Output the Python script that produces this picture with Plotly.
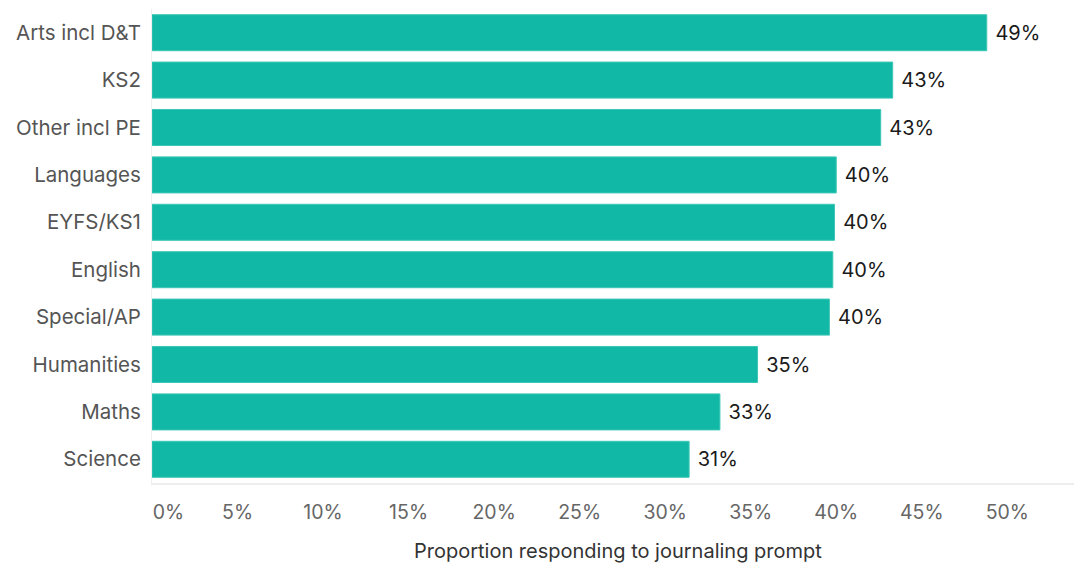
import plotly.graph_objects as go

categories = ["Arts incl D&T", "KS2", "Other incl PE", "Languages", "EYFS/KS1",
              "English", "Special/AP", "Humanities", "Maths", "Science"]
values = [0.488, 0.433, 0.426, 0.400, 0.399, 0.398, 0.396, 0.354, 0.332, 0.314]
tick_vals = [0, 0.05, 0.10, 0.15, 0.20, 0.25, 0.30, 0.35, 0.40, 0.45, 0.50]
tick_text = ["\u00a0\u00a0\u00a0\u00a0\u00a0\u00a00%", "5%", "10%", "15%", "20%", "25%",
             "30%", "35%", "40%", "45%", "50%"]
x_title = "Proportion responding to journaling prompt"

FONT = "Inter"

fig = go.Figure(go.Bar(
    y=categories, x=values, orientation="h",
    marker=dict(color="#12b8a6", line=dict(color="#3cc6b6", width=1)),
    text=[f"\u00a0{round(v*100)}%" for v in values],
    textposition="outside", cliponaxis=False,
    textfont=dict(family=FONT, size=20, color="#1a1a1a"),
    width=0.76,
))

fig.update_layout(
    width=1074, height=563,
    margin=dict(l=152, r=0, t=9, b=80),
    paper_bgcolor="white", plot_bgcolor="white",
    showlegend=False,
    font=dict(family=FONT),
    annotations=[dict(text=x_title, xref="paper", yref="paper", x=0.505, y=-0.143,
                      xanchor="center", yanchor="middle", showarrow=False,
                      font=dict(family=FONT, size=20, color="#333333"))],
)
fig.update_yaxes(
    autorange="reversed", showgrid=False, automargin=False,
    showline=True, linecolor="#eeeeee", linewidth=1,
    ticks="", ticklabelstandoff=6,
    tickfont=dict(family=FONT, size=20.5, color="#555555"),
)
fig.update_xaxes(
    range=[0, 0.539], tickvals=tick_vals, ticktext=tick_text,
    showgrid=False, zeroline=False, automargin=False,
    showline=True, linecolor="#eeeeee", linewidth=2,
    ticks="", ticklabelstandoff=11,
    tickfont=dict(family=FONT, size=19.5, color="#666666"),
)

fig.write_html("out.html")
